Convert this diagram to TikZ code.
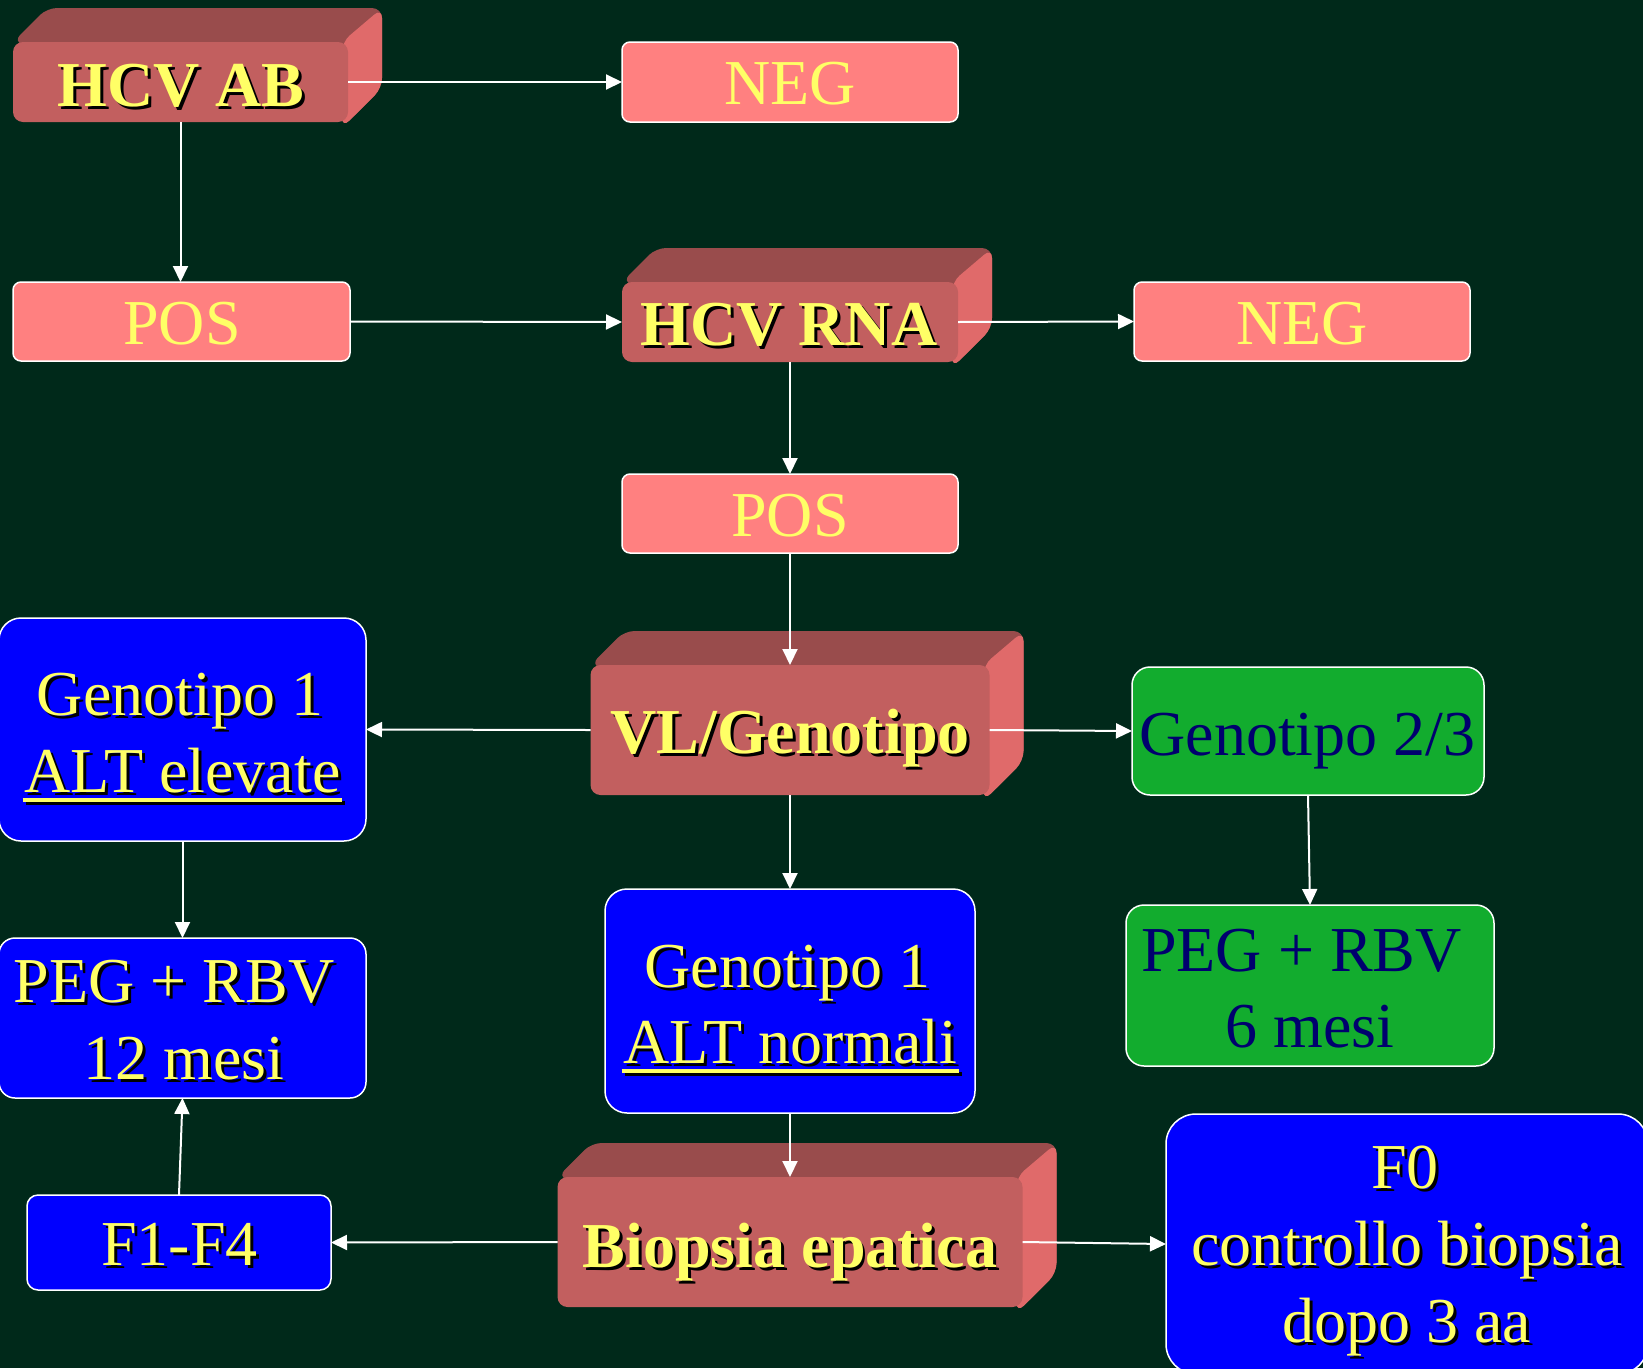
\documentclass[tikz,border=0pt]{standalone}
\usepackage{fontspec}
\setmainfont{Liberation Serif}
\usetikzlibrary{arrows.meta}
\definecolor{bg}{RGB}{0,41,26}
\definecolor{frontc}{RGB}{194,95,95}
\definecolor{topc}{RGB}{153,76,76}
\definecolor{sidec}{RGB}{224,106,106}
\definecolor{pinkc}{RGB}{255,128,128}
\definecolor{yel}{RGB}{255,255,102}
\definecolor{bluec}{RGB}{0,0,255}
\definecolor{greenc}{RGB}{18,172,46}
\definecolor{navyc}{RGB}{0,0,110}
\newcommand\shd[1]{\leavevmode\rlap{\kern3pt\raisebox{-3pt}{\color{black}#1}}#1}
\newcommand\uline[1]{\setbox0\hbox{#1}\rlap{\kern-2pt\rule[-10pt]{\dimexpr\wd0+4pt\relax}{4pt}}\box0}
\newcommand\threedfaces[4]{%
  \fill[topc, rounded corners=10pt] (#1,#2) -- ({#1+34},{#2-34}) -- ({#3+34},{#2-34}) -- ({#3+34},{#4-34}) -- (#3,#4) -- cycle;
  \fill[sidec, rounded corners=10pt] ({#3-6},#2) -- ({#3+34},{#2-34}) -- ({#3+34},{#4-34}) -- ({#3-6},{#4+6}) -- cycle;}
\tikzset{
  basebox/.style={inner sep=0pt, outer sep=0pt, rectangle},
  front/.style={basebox, rounded corners=10pt, fill=frontc},
  flatpink/.style={basebox, rounded corners=8pt, fill=pinkc, draw=white, line width=1.5pt},
  bluebox/.style={basebox, fill=bluec, draw=white, line width=1.5pt},
  greenbox/.style={basebox, fill=greenc, draw=white, line width=1.5pt},
  ytext/.style={anchor=base, inner sep=0pt, text=yel, font=\fontsize{64}{70}\selectfont},
  ytextb/.style={anchor=base, inner sep=0pt, text=yel, font=\fontsize{64}{70}\selectfont\bfseries},
  ntext/.style={anchor=base, inner sep=0pt, text=navyc, font=\fontsize{64}{70}\selectfont},
  conn/.style={draw=white, line width=2pt, -{Triangle[length=16pt,width=15pt]}},
}
\begin{document}
\begin{tikzpicture}[x=1pt,y=-1pt]
\fill[bg] (0,0) rectangle (1643,1368);
\useasboundingbox (0,0) rectangle (1643,1368);
% 3D boxes
\threedfaces{13}{42}{348}{122}
\node[front, minimum width=335pt, minimum height=80pt] (hcvab) at (180.5,82) {};
\threedfaces{622}{282}{958}{362}
\node[front, minimum width=336pt, minimum height=80pt] (hcvrna) at (790,322) {};
\threedfaces{590.5}{665}{989.5}{795}
\node[front, minimum width=399pt, minimum height=130pt] (vl) at (790,730) {};
\threedfaces{557.5}{1177}{1022.5}{1307}
\node[front, minimum width=465pt, minimum height=130pt] (bio) at (790,1242) {};
% flat pink boxes
\node[flatpink, minimum width=336pt, minimum height=80pt] (neg1) at (790,82) {};
\node[flatpink, minimum width=337pt, minimum height=79pt] (pos1) at (181.5,321.5) {};
\node[flatpink, minimum width=336pt, minimum height=79pt] (neg2) at (1302,321.5) {};
\node[flatpink, minimum width=336pt, minimum height=79pt] (pos2) at (790,513.5) {};
% blue boxes
\node[bluebox, rounded corners=22pt, minimum width=367pt, minimum height=223pt] (g1e) at (182.5,729.5) {};
\node[bluebox, rounded corners=16pt, minimum width=367pt, minimum height=160pt] (peg12) at (182.5,1018) {};
\node[bluebox, rounded corners=11pt, minimum width=304pt, minimum height=95pt] (f14) at (179,1242.5) {};
\node[bluebox, rounded corners=22pt, minimum width=370pt, minimum height=224pt] (g1n) at (790,1001) {};
\node[bluebox, rounded corners=30pt, minimum width=482pt, minimum height=260pt] (f0) at (1407,1244) {};
% green boxes
\node[greenbox, rounded corners=18pt, minimum width=352pt, minimum height=128pt] (g23) at (1308,731) {};
\node[greenbox, rounded corners=18pt, minimum width=368pt, minimum height=161pt] (peg6) at (1310,985.5) {};
% texts
\node[ytextb] (t1) at (181,106) {\shd{HCV AB}};
\node[ytext] (t2) at (790,104) {NEG};
\node[ytext] (t3) at (182,344) {POS};
\node[ytextb] (t4) at (789,345) {\shd{HCV RNA}};
\node[ytext] (t5) at (1302,344) {NEG};
\node[ytext] (t6) at (790,536) {POS};
\node[ytextb] (t7) at (790,753) {\shd{VL/Genotipo}};
\node[ytext] (t8a) at (180,715) {\shd{Genotipo 1}};
\node[ytext] (t8b) at (182.5,792) {\shd{\uline{ALT elevate}}};
\node[ytext] (t9a) at (174,1002) {\shd{PEG + RBV}};
\node[ytext] (t9b) at (184,1079) {\shd{12 mesi}};
\node[ytext] (t10) at (179.5,1265) {\shd{F1-F4}};
\node[ytext] (t11a) at (787.5,987) {\shd{Genotipo 1}};
\node[ytext] (t11b) at (790.5,1063) {\shd{\uline{ALT normali}}};
\node[ytextb] (t12) at (790,1267) {\shd{Biopsia epatica}};
\node[ytext] (t13a) at (1405,1188) {\shd{F0}};
\node[ytext] (t13b) at (1407,1265) {\shd{controllo biopsia}};
\node[ytext] (t13c) at (1406.5,1342) {\shd{dopo 3 aa}};
\node[ntext] (t14) at (1307.5,755) {Genotipo 2/3};
\node[ntext] (t15a) at (1301.5,971) {PEG + RBV};
\node[ntext] (t15b) at (1310,1047) {6 mesi};
% connectors
\draw[conn] (hcvab.east) -- (neg1.west);
\draw[conn] (hcvab.south) -- (hcvab.south |- pos1.north);
\draw[conn] (pos1.east) -- (hcvrna.west);
\draw[conn] (hcvrna.east) -- (neg2.west);
\draw[conn] (hcvrna.south) -- (pos2.north);
\draw[conn] (pos2.south) -- (vl.north);
\draw[conn] (vl.west) -- (g1e.east);
\draw[conn] (vl.east) -- (g23.west);
\draw[conn] (vl.south) -- (g1n.north);
\draw[conn] (g1e.south) -- (peg12.north);
\draw[conn] (g23.south) -- (peg6.north);
\draw[conn] (g1n.south) -- (bio.north);
\draw[conn] (bio.west) -- (f14.east);
\draw[conn] (bio.east) -- (f0.west);
\draw[conn] (f14.north) -- (peg12.south);
\end{tikzpicture}
\end{document}
